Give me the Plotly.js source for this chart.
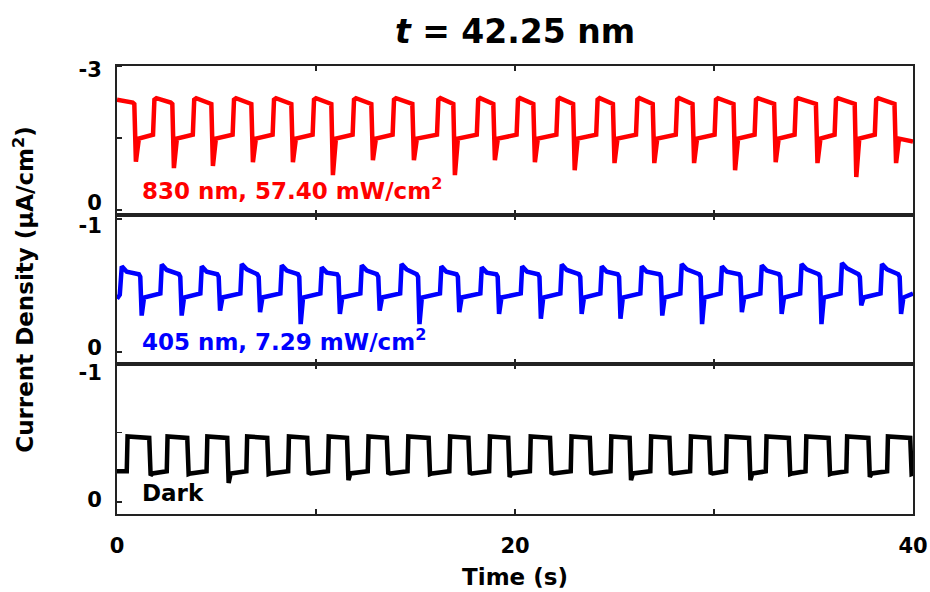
<!DOCTYPE html>
<html>
<head>
<meta charset="utf-8">
<script src="https://cdn.plot.ly/plotly-3.0.1.min.js"></script>
<style>html,body{margin:0;padding:0;background:#fff;}#chart{width:930px;height:592px;}</style>
</head>
<body>
<div id="chart"></div>
<script>
// ---- data ----
// Red: 830 nm, 57.40 mW/cm2
const redStartLevel = -2.30;
const redOnLevel = [-2.33, -2.24];      // start / end of light-on plateau
const redOffLevel = [-1.49, -1.57];     // start / end of light-off plateau
const redEndLevel = -1.43;
const redSpikeT = [0.95, 2.86, 4.82, 6.83, 8.84, 10.85, 12.86, 14.92, 16.98, 18.99, 21.0, 23.0, 25.0, 27.0, 29.0, 31.06, 33.1, 35.2, 37.15, 39.15];
const redSpikeV = [-1.01, -0.875, -0.92, -1.0, -1.0, -0.73, -1.04, -1.04, -0.73, -1.04, -1.0, -0.83, -0.98, -0.98, -0.98, -0.83, -1.0, -0.98, -0.69, -0.98];
const redRiseT = [1.83, 3.83, 5.83, 7.84, 9.85, 11.86, 13.87, 16.1, 18.1, 20.1, 22.1, 24.1, 26.1, 28.1, 30.05, 32.06, 34.07, 36.08, 38.1];

// Blue: 405 nm, 7.29 mW/cm2
const blueStartLevel = -0.40;
const blueOffLevel = [-0.41, -0.44];
const blueDecayLevel = -0.585;
const blueEndLevel = -0.44;
const bluePeakT = [0.24, 2.25, 4.26, 6.27, 8.28, 10.29, 12.3, 14.3, 16.3, 18.33, 20.36, 22.35, 24.36, 26.37, 28.38, 30.4, 32.4, 34.4, 36.43, 38.44];
const bluePeakV = [-0.644, -0.657, -0.644, -0.661, -0.652, -0.637, -0.652, -0.661, -0.644, -0.637, -0.644, -0.657, -0.644, -0.644, -0.661, -0.644, -0.652, -0.661, -0.669, -0.661];
const blueSpikeT = [1.24, 3.25, 5.18, 7.19, 9.23, 11.2, 13.2, 15.2, 17.2, 19.2, 21.3, 23.35, 25.3, 27.4, 29.4, 31.4, 33.4, 35.4, 37.4, 39.4];
const blueSpikeV = [-0.274, -0.274, -0.311, -0.30, -0.21, -0.287, -0.311, -0.21, -0.30, -0.287, -0.25, -0.287, -0.25, -0.274, -0.21, -0.30, -0.287, -0.21, -0.35, -0.287];

// Black: dark
const blackHigh = [-0.47, -0.46];
const blackLow = [-0.205, -0.22];
const blackRiseT = [0.49, 2.5, 4.5, 6.5, 8.6, 10.6, 12.6, 14.6, 16.7, 18.7, 20.75, 22.8, 24.8, 26.8, 28.8, 30.6, 32.6, 34.6, 36.65, 38.7];
const blackFallT = [1.66, 3.57, 5.58, 7.59, 9.6, 11.6, 13.6, 15.7, 17.7, 19.7, 21.8, 23.8, 25.8, 27.8, 29.8, 31.8, 33.8, 35.8, 37.8, 39.9];
const blackDipV = [-0.19, -0.2, -0.136, -0.2, -0.21, -0.157, -0.21, -0.2, -0.21, -0.18, -0.21, -0.21, -0.157, -0.21, -0.21, -0.157, -0.2, -0.2, -0.18, -0.2];

// ticks
const xLabelVals = [0, 20, 40];
const xLabelText = ['0', '20', '40'];
const xMinorVals = [10, 30];
const yTopTicks = [-3, -1.5, 0];
const yMidTicks = [-1, 0];
const yBotTicks = [-1, -0.5, 0];
const yTickText = [['-3', '0'], ['-1', '0'], ['-1', '0']];
const labels = ['830 nm, 57.40 mW/cm<sup>2</sup>', '405 nm, 7.29 mW/cm<sup>2</sup>', 'Dark'];

// ---- build traces from the per-cycle values ----
function buildRed() {
  const t = [0], y = [redStartLevel];
  for (let k = 0; k < redSpikeT.length; k++) {
    const S = redSpikeT[k];
    t.push(S - 0.16, S - 0.08, S, S + 0.15); y.push(redOnLevel[1], redOnLevel[1] + 0.03, redSpikeV[k], redOffLevel[0]);
    if (k < redRiseT.length) {
      const R = redRiseT[k];
      t.push(R - 0.02, R + 0.05, R + 0.15); y.push(redOffLevel[1], redOnLevel[0] + 0.03, redOnLevel[0]);
    }
  }
  t.push(40); y.push(redEndLevel);
  return {t, y};
}
function buildBlue() {
  const t = [0, 0.14], y = [blueStartLevel, blueOffLevel[1] + 0.01];
  for (let k = 0; k < bluePeakT.length; k++) {
    const P = bluePeakT[k], S = blueSpikeT[k];
    if (k > 0) { t.push(P - 0.07); y.push(blueOffLevel[1]); }
    t.push(P, P + 0.25, S - 0.14, S - 0.07, S, S + 0.12);
    y.push(bluePeakV[k], bluePeakV[k] + 0.04, blueDecayLevel, blueDecayLevel + 0.02, blueSpikeV[k], blueOffLevel[0]);
  }
  t.push(40); y.push(blueEndLevel);
  return {t, y};
}
function buildBlack() {
  const t = [0], y = [blackLow[1]];
  for (let k = 0; k < blackRiseT.length; k++) {
    const R = blackRiseT[k], F = blackFallT[k];
    t.push(R, R + 0.04, F - 0.04, F + 0.03, F + 0.13);
    y.push(blackLow[1], blackHigh[0], blackHigh[1], blackDipV[k], blackLow[0]);
  }
  return {t, y};
}

const r = buildRed(), b = buildBlue(), k = buildBlack();
const FONT = 'DejaVu Sans, Arial, sans-serif';
const traces = [
  {x: r.t, y: r.y, xaxis: 'x', yaxis: 'y', mode: 'lines', line: {color: '#ff0000', width: 4.5}, hoverinfo: 'skip'},
  {x: b.t, y: b.y, xaxis: 'x2', yaxis: 'y2', mode: 'lines', line: {color: '#0000ff', width: 4.5}, hoverinfo: 'skip'},
  {x: k.t, y: k.y, xaxis: 'x3', yaxis: 'y3', mode: 'lines', line: {color: '#000000', width: 4.5}, hoverinfo: 'skip'}
];

const tickFont = {family: FONT, size: 21, color: '#000', weight: 'bold'};
const minorStyle = {ticks: 'inside', ticklen: 5, tickwidth: 1.5, tickcolor: '#222', showgrid: false};
function xAxis(anchor, showLabels) {
  return {
    anchor: anchor, domain: [0, 1], range: [0, 40],
    tickmode: 'array', tickvals: xLabelVals, ticktext: xLabelText,
    ticks: 'inside', ticklen: 5, tickwidth: 1.5, tickcolor: '#222', mirror: 'ticks',
    minor: Object.assign({tickmode: 'array', tickvals: xMinorVals}, minorStyle),
    showline: true, linewidth: 2, linecolor: '#222', showgrid: false, zeroline: false,
    showticklabels: showLabels, tickfont: tickFont, ticklabelstandoff: 12
  };
}
// tick marks at the true values (minor ticks); the labels sit slightly inside the frame as in the reference
function yAxis(domain, range, markVals, labelVals, labelText) {
  return {
    domain: domain, range: range,
    tickmode: 'array', tickvals: labelVals, ticktext: labelText, ticks: '',
    minor: Object.assign({tickmode: 'array', tickvals: markVals}, minorStyle),
    mirror: true, showline: true, linewidth: 2, linecolor: '#222', showgrid: false, zeroline: false,
    tickfont: tickFont, ticklabelstandoff: 9
  };
}

const x3 = xAxis('y3', true);
x3.title = {text: '<b>Time (s)</b>', font: {family: FONT, size: 23, color: '#000'}, standoff: 12};
const y2 = yAxis([0.33482, 0.66741], [0.09, -1.03], yMidTicks, [-0.95, -0.03], yTickText[1]);
y2.title = {text: '<b>Current Density (μA/cm<sup>2</sup>)</b>', font: {family: FONT, size: 23, color: '#000'}, standoff: 38};

const annFont = (c) => ({family: FONT, size: 23, color: c});
const layout = {
  width: 930, height: 592,
  margin: {l: 117, r: 17, t: 66, b: 78},
  paper_bgcolor: '#fff', plot_bgcolor: '#fff',
  showlegend: false,
  title: {text: '<b><i>t</i> = 42.25 nm</b>', font: {family: FONT, size: 33, color: '#000'},
          x: 0.5, xanchor: 'center', xref: 'paper', y: 1 - 31 / 592, yanchor: 'middle', yref: 'container'},
  xaxis: xAxis('y', false),
  xaxis2: xAxis('y2', false),
  xaxis3: x3,
  yaxis: yAxis([0.66741, 1], [0.1, -3], yTopTicks, [-2.92, -0.16], yTickText[0]),
  yaxis2: y2,
  yaxis3: yAxis([0, 0.33482], [0.086, -0.99], yBotTicks, [-0.93, -0.015], yTickText[2]),
  annotations: [
    {text: '<b>' + labels[0] + '</b>', x: 1.15, y: -0.44, xref: 'x', yref: 'y', xanchor: 'left', yanchor: 'middle', showarrow: false, font: annFont('#ff0000')},
    {text: '<b>' + labels[1] + '</b>', x: 1.15, y: -0.09, xref: 'x2', yref: 'y2', xanchor: 'left', yanchor: 'middle', showarrow: false, font: annFont('#0000ff')},
    {text: '<b>' + labels[2] + '</b>', x: 1.15, y: -0.065, xref: 'x3', yref: 'y3', xanchor: 'left', yanchor: 'middle', showarrow: false, font: annFont('#000000')}
  ]
};

Plotly.newPlot('chart', traces, layout, {staticPlot: true, displayModeBar: false});
</script>
</body>
</html>
